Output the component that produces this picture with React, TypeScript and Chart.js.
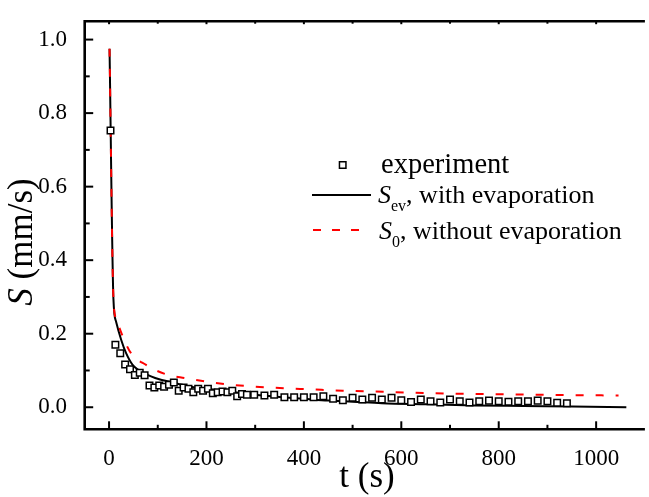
import React, { useEffect, useRef } from "react";
import { Chart, registerables } from "chart.js";

Chart.register(...registerables);

// ---- data ----
const expTime = [
  3, 13, 23, 33, 43, 53, 63, 73, 83, 93,
  103, 113, 123, 133, 143, 153, 163, 173, 183, 193,
  203, 213, 223, 233, 243, 253, 263, 273, 283, 298,
  319, 339, 360, 380, 400, 420, 440, 460, 480, 500,
  520, 540, 560, 580, 600, 620, 640, 660, 680, 700,
  720, 740, 760, 780, 800, 820, 840, 860, 880, 900,
  920, 940,
];
const expS = [
  0.753, 0.170, 0.147, 0.116, 0.103, 0.088, 0.094, 0.087, 0.059, 0.054,
  0.059, 0.056, 0.061, 0.067, 0.045, 0.054, 0.050, 0.041, 0.050, 0.045,
  0.050, 0.038, 0.041, 0.043, 0.041, 0.045, 0.030, 0.036, 0.034, 0.034,
  0.032, 0.034, 0.027, 0.027, 0.027, 0.027, 0.030, 0.023, 0.019, 0.026,
  0.021, 0.026, 0.021, 0.026, 0.019, 0.014, 0.021, 0.016, 0.013, 0.021,
  0.016, 0.013, 0.016, 0.018, 0.016, 0.015, 0.016, 0.016, 0.018, 0.016,
  0.012, 0.011,
];
const evTime = [1, 9, 14.6, 25, 35, 48, 76, 103, 123, 160, 200, 250, 300, 350, 400, 450, 500, 560, 650, 750, 850, 950, 1062];
const evS = [0.975, 0.294, 0.232, 0.183, 0.147, 0.116, 0.090, 0.076, 0.070, 0.058, 0.050, 0.042, 0.034, 0.028, 0.023, 0.018, 0.015, 0.011, 0.008, 0.005, 0.0035, 0.002, 0.0003];
const noEvTime = [1, 9, 15, 27, 45, 76, 116, 157, 198, 238, 280, 367, 407, 480, 563, 700, 821, 940, 1046];
const noEvS = [0.975, 0.296, 0.240, 0.196, 0.147, 0.115, 0.090, 0.079, 0.070, 0.063, 0.058, 0.051, 0.049, 0.045, 0.042, 0.037, 0.035, 0.033, 0.032];

const xMajorTicks = [0, 200, 400, 600, 800, 1000];
const xMinorTicks = [100, 300, 500, 700, 900];
const yMajorTicks = [0, 0.2, 0.4, 0.6, 0.8, 1.0];
const yMinorTicks = [0.1, 0.3, 0.5, 0.7, 0.9];

const legendMain = ["experiment", ", with evaporation", ", without evaporation"];
const legendSub = ["", "ev", "0"];
const xTitle = "t (s)";
const yTitleItalic = "S";
const yTitleRest = " (mm/s)";

const SERIF = '"Liberation Serif", "Times New Roman", serif';

const decorPlugin = {
  id: "decor",
  afterDraw(chart: any) {
    const ctx = chart.ctx as CanvasRenderingContext2D;
    const { left, right, top, bottom } = chart.chartArea;
    const xs = chart.scales.x;
    const ys = chart.scales.y;
    ctx.save();
    ctx.strokeStyle = "#000";
    ctx.lineCap = "butt";

    // ticks (inward)
    ctx.lineWidth = 2;
    const vTick = (px: number, y0: number, len: number) => {
      ctx.beginPath();
      ctx.moveTo(px, y0);
      ctx.lineTo(px, y0 + len);
      ctx.stroke();
    };
    const hTick = (py: number, len: number) => {
      ctx.beginPath();
      ctx.moveTo(left, py);
      ctx.lineTo(left + len, py);
      ctx.stroke();
    };
    xMajorTicks.forEach((v) => {
      const px = xs.getPixelForValue(v);
      vTick(px, bottom, -8);
      vTick(px, top, 3);
    });
    xMinorTicks.forEach((v) => {
      const px = xs.getPixelForValue(v);
      vTick(px, bottom, -4.5);
      vTick(px, top, 2.5);
    });
    yMajorTicks.forEach((v) => hTick(ys.getPixelForValue(v), 8.5));
    yMinorTicks.forEach((v) => hTick(ys.getPixelForValue(v), 5));

    // frame (no right side visible)
    ctx.lineWidth = 2.6;
    ctx.beginPath();
    ctx.moveTo(right + 2, top);
    ctx.lineTo(left, top);
    ctx.lineTo(left, bottom);
    ctx.lineTo(right + 2, bottom);
    ctx.stroke();

    // axis titles
    ctx.fillStyle = "#000";
    ctx.textBaseline = "alphabetic";
    ctx.textAlign = "left";
    ctx.font = `35px ${SERIF}`;
    const xtw = ctx.measureText(xTitle).width;
    ctx.fillText(xTitle, 367 - xtw / 2, 487);

    ctx.save();
    ctx.font = `italic 35px ${SERIF}`;
    const sW = ctx.measureText(yTitleItalic).width;
    ctx.font = `35px ${SERIF}`;
    const rW = ctx.measureText(yTitleRest).width;
    const total = sW + rW;
    ctx.translate(32, 242 + total / 2);
    ctx.rotate(-Math.PI / 2);
    ctx.font = `italic 35px ${SERIF}`;
    ctx.fillText(yTitleItalic, 0, 0);
    ctx.font = `35px ${SERIF}`;
    ctx.fillText(yTitleRest, sW, 0);
    ctx.restore();

    // legend
    // row 1: marker
    ctx.lineWidth = 1.5;
    ctx.fillStyle = "#fff";
    ctx.beginPath();
    ctx.rect(342.7 - 3.25, 165 - 3.25, 6.5, 6.5);
    ctx.fill();
    ctx.stroke();
    ctx.fillStyle = "#000";
    ctx.font = `28.5px ${SERIF}`;
    ctx.fillText(legendMain[0], 381, 173);

    // row 2: solid black
    ctx.lineWidth = 2;
    ctx.strokeStyle = "#000";
    ctx.beginPath();
    ctx.moveTo(312, 195);
    ctx.lineTo(371, 195);
    ctx.stroke();
    const drawRow = (x: number, base: number, sub: string, main: string) => {
      ctx.font = `italic 26px ${SERIF}`;
      ctx.fillText("S", x, base);
      let cx = x + ctx.measureText("S").width;
      ctx.font = `16px ${SERIF}`;
      ctx.fillText(sub, cx, base + 8);
      cx += ctx.measureText(sub).width;
      ctx.font = `26px ${SERIF}`;
      ctx.fillText(main, cx, base);
    };
    drawRow(378, 203, legendSub[1], legendMain[1]);

    // row 3: dashed red
    ctx.strokeStyle = "#ff0000";
    ctx.setLineDash([8, 11]);
    ctx.beginPath();
    ctx.moveTo(313, 230);
    ctx.lineTo(360, 230);
    ctx.stroke();
    ctx.setLineDash([]);
    drawRow(379, 239, legendSub[2], legendMain[2]);

    ctx.restore();
  },
};

export default function App() {
  const ref = useRef<HTMLCanvasElement | null>(null);

  useEffect(() => {
    if (!ref.current) return;
    const chart = new Chart(ref.current, {
      type: "line",
      data: {
        datasets: [
          {
            label: "experiment",
            data: expTime.map((t, i) => ({ x: t, y: expS[i] })),
            showLine: false,
            pointStyle: "rect",
            pointRadius: 4.6,
            pointBorderWidth: 1.5,
            pointBorderColor: "#000",
            pointBackgroundColor: "#fff",
            borderColor: "#000",
            backgroundColor: "#fff",
          },
          {
            label: "S_0, without evaporation",
            data: noEvTime.map((t, i) => ({ x: t, y: noEvS[i] })),
            borderColor: "#ff0000",
            borderWidth: 2,
            borderDash: [8, 12],
            pointRadius: 0,
            cubicInterpolationMode: "monotone",
            fill: false,
          },
          {
            label: "S_ev, with evaporation",
            data: evTime.map((t, i) => ({ x: t, y: evS[i] })),
            borderColor: "#000",
            borderWidth: 2,
            pointRadius: 0,
            cubicInterpolationMode: "monotone",
            fill: false,
          },
        ],
      },
      options: {
        animation: false,
        responsive: false,
        maintainAspectRatio: false,
        layout: { padding: { top: 12.8, right: 0, left: 0, bottom: 0 } },
        plugins: { legend: { display: false }, tooltip: { enabled: false } },
        scales: {
          x: {
            type: "linear",
            min: -50,
            max: 1096,
            grid: { display: false },
            border: { display: false },
            afterBuildTicks: (scale: any) => {
              scale.ticks = xMajorTicks.map((v) => ({ value: v }));
            },
            afterFit: (scale: any) => {
              scale.height = 67.7;
            },
            ticks: {
              autoSkip: false,
              maxRotation: 0,
              minRotation: 0,
              padding: 9.7,
              color: "#000",
              font: { family: SERIF, size: 23, lineHeight: 1 },
              callback: (v: any) => String(Math.round(Number(v))),
            },
          },
          y: {
            type: "linear",
            min: -0.06,
            max: 1.05,
            grid: { display: false },
            border: { display: false },
            afterBuildTicks: (scale: any) => {
              scale.ticks = yMajorTicks.map((v) => ({ value: v }));
            },
            afterFit: (scale: any) => {
              scale.width = 84.7;
            },
            ticks: {
              autoSkip: false,
              padding: 9.7,
              color: "#000",
              font: { family: SERIF, size: 23, lineHeight: 1 },
              callback: (v: any) => Number(v).toFixed(1),
            },
          },
        },
      },
      plugins: [decorPlugin],
    });
    return () => chart.destroy();
  }, []);

  return (
    <div style={{ position: "fixed", left: 0, top: 0, width: 649, height: 497, background: "#fff" }}>
      <canvas ref={ref} width={649} height={497} style={{ display: "block", width: 649, height: 497 }} />
    </div>
  );
}
